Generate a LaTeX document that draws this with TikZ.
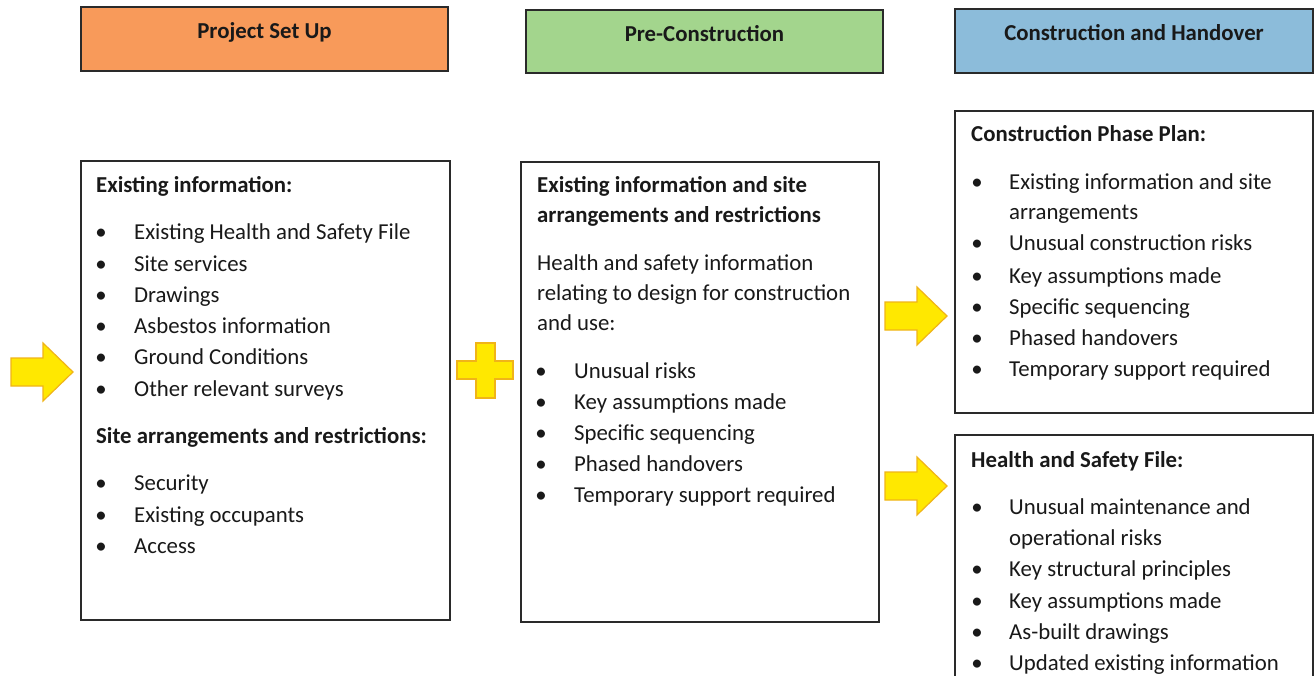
\documentclass[tikz,border=0pt]{standalone}
\usepackage{fontspec}
\setmainfont{Carlito}
\definecolor{hOrange}{HTML}{F89A5A}
\definecolor{hGreen}{HTML}{A3D58D}
\definecolor{hBlue}{HTML}{8CBCDA}
\definecolor{arrFill}{HTML}{FFE800}
\definecolor{arrLine}{HTML}{F0B418}
\definecolor{boxLine}{HTML}{2A2A2A}
\begin{document}
\begin{tikzpicture}[x=1pt,y=-1pt,
  header/.style={draw=boxLine,line width=1.6pt},
  panel/.style={draw=boxLine,line width=1.4pt,fill=white},
  body/.style={anchor=base west,inner sep=0pt,font=\fontsize{22.8}{31}\selectfont,text=black!90},
  bodyb/.style={body,font=\fontsize{22.8}{31}\selectfont\bfseries},
  bul/.style={anchor=base,inner sep=0pt,font=\fontsize{22.8}{31}\selectfont,text=black!90},
  htext/.style={anchor=base,inner sep=0pt,font=\fontsize{22.8}{31}\selectfont\bfseries,text=black!90},
  yshape/.style={fill=arrFill,draw=arrLine,line width=1.2pt,line join=miter}]
\useasboundingbox (0,0) rectangle (1316,676);
\fill[white] (0,0) rectangle (1316,676);

% header boxes
\draw[header,fill=hOrange] (81,7) rectangle (448,71);
\node[htext] (h1) at (264.5,39) {Project Set Up};
\draw[header,fill=hGreen] (526,10) rectangle (883,73);
\node[htext] (h2) at (704.5,42) {Pre-Construction};
\draw[header,fill=hBlue] (955,9) rectangle (1313,73);
\node[htext] (h3) at (1134,41) {Construction and Handover};

% content panels
\draw[panel] (81,161) rectangle (450,620);
\draw[panel] (521,162) rectangle (879,622);
\draw[panel] (955,111) rectangle (1313,413);
\draw[panel] (955,435) rectangle (1313,690);

% left panel text
\node[bodyb] (a0) at (96,193) {Existing information:};
\foreach \y/\t [count=\i] in {240/Existing Health and Safety File,271/Site services,302/Drawings,333/Asbestos information,364/Ground Conditions,396/Other relevant surveys,490/Security,522/Existing occupants,553/Access}{
  \node[bul] (ab\i) at (101,\y) {\textbullet};
  \node[body] (a\i) at (134,\y) {\t};
}
\node[bodyb] (as) at (96,443) {Site arrangements and restrictions:};

% middle panel text
\node[bodyb] (m0) at (537,193) {Existing information and site};
\node[bodyb] (m00) at (537,223) {arrangements and restrictions};
\node[body] (n1) at (537,270) {Health and safety information};
\node[body] (n2) at (537,300) {relating to design for construction};
\node[body] (n3) at (537,330) {and use:};
\foreach \y/\t [count=\i] in {378/Unusual risks,409/Key assumptions made,440/Specific sequencing,471/Phased handovers,502/Temporary support required}{
  \node[bul] (mb\i) at (541,\y) {\textbullet};
  \node[body] (m\i) at (574,\y) {\t};
}

% right top panel
\node[bodyb] (c0) at (971,142) {Construction Phase Plan:};
\foreach \y/\t [count=\i] in {190/Existing information and site,251/Unusual construction risks,283/Key assumptions made,314/Specific sequencing,345/Phased handovers,376/Temporary support required}{
  \node[bul] (cb\i) at (977,\y) {\textbullet};
  \node[body] (c\i) at (1009,\y) {\t};
}
\node[body] (c1b) at (1009,220) {arrangements};

% right bottom panel
\node[bodyb] (f0) at (971,467) {Health and Safety File:};
\foreach \y/\t [count=\i] in {514/Unusual maintenance and,576/Key structural principles,608/Key assumptions made,639/As-built drawings,670/Updated existing information}{
  \node[bul] (fb\i) at (977,\y) {\textbullet};
  \node[body] (f\i) at (1009,\y) {\t};
}
\node[body] (f1b) at (1009,545) {operational risks};

% yellow arrows
\draw[yshape] (11,358) -- (43,358) -- (43,343) -- (73,372) -- (43,401) -- (43,386) -- (11,386) -- cycle;
\draw[yshape] (885,302) -- (917,302) -- (917,287) -- (947,316) -- (917,345) -- (917,330) -- (885,330) -- cycle;
\draw[yshape] (885,472) -- (917,472) -- (917,457) -- (947,486) -- (917,515) -- (917,500) -- (885,500) -- cycle;
% plus
\draw[yshape] (476,343) -- (495,343) -- (495,361) -- (513,361) -- (513,379) -- (495,379) -- (495,398) -- (476,398) -- (476,379) -- (457,379) -- (457,361) -- (476,361) -- cycle;
\end{tikzpicture}
\end{document}
